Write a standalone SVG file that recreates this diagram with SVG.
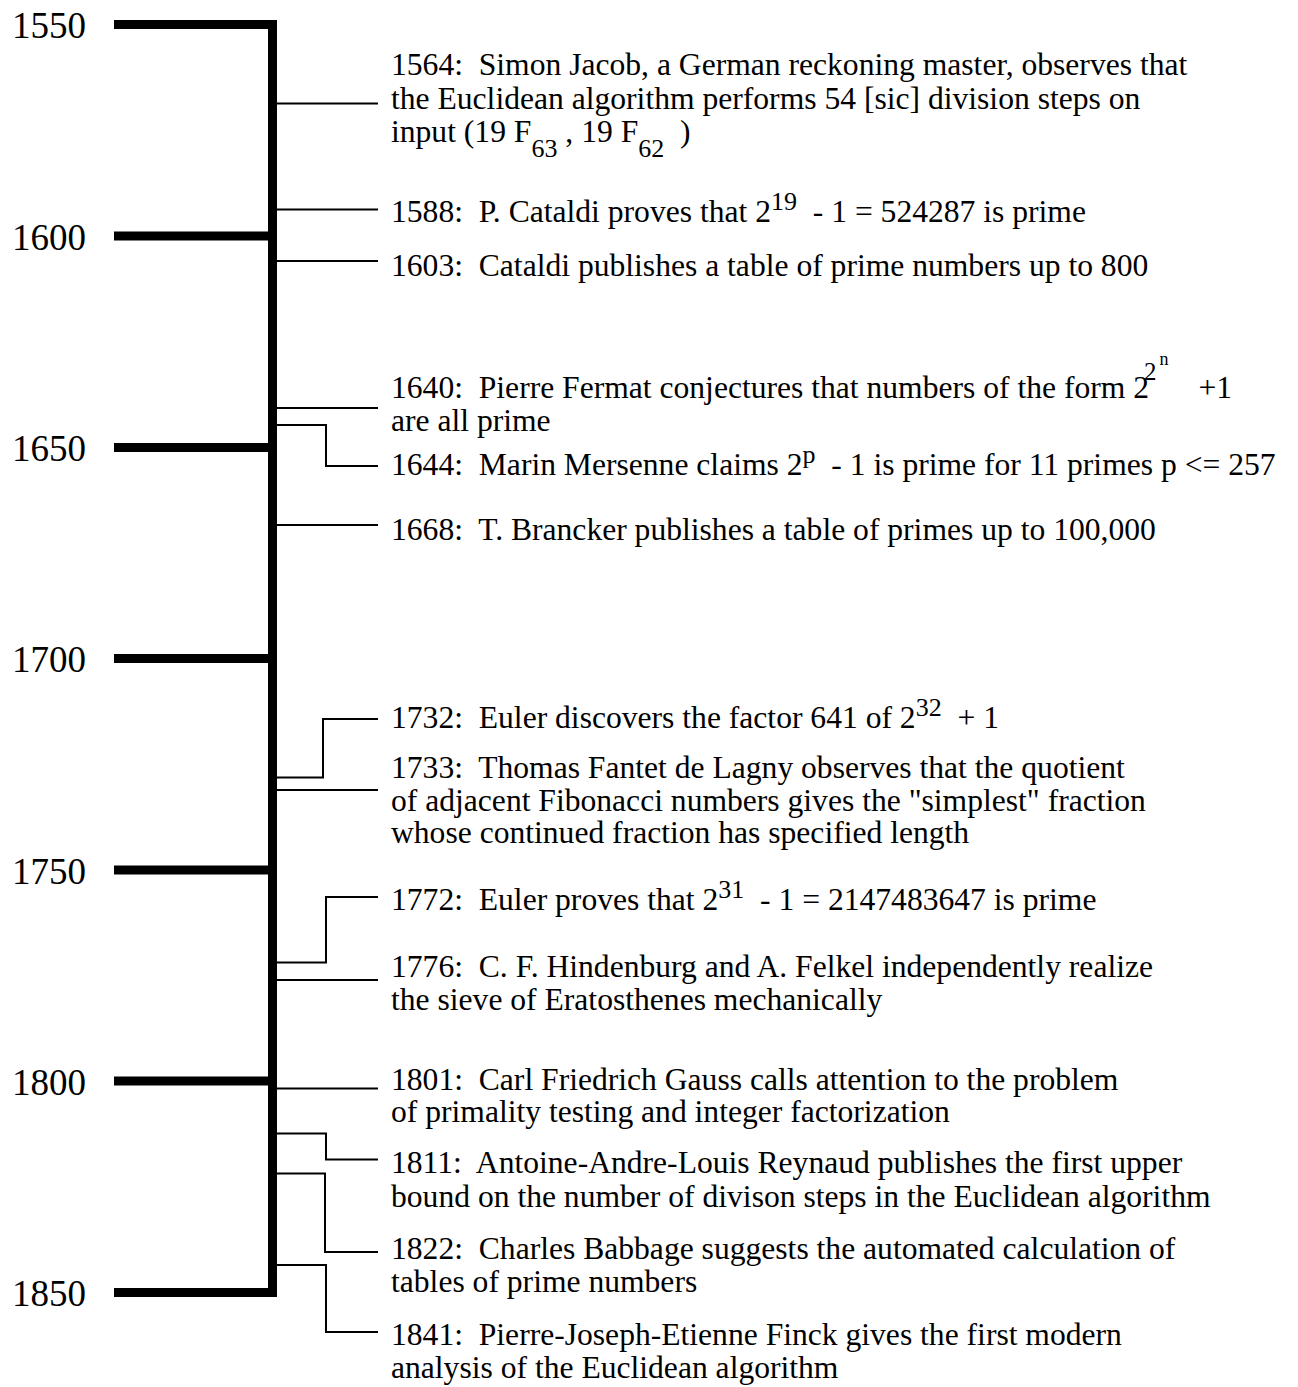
<svg xmlns="http://www.w3.org/2000/svg" width="1298" height="1387" viewBox="0 0 1298 1387">
<style>
text{font-family:"Liberation Serif","Times New Roman",serif;fill:#000;white-space:pre}
.yr{font-size:37px}
.ev{font-size:31.6px}
.sup{font-size:26px}
.conn path{fill:none;stroke:#000;stroke-width:2}
.axis rect{fill:#000}
</style>
<rect width="1298" height="1387" fill="#fff"/>
<g id="axis" class="axis">
<rect x="268" y="20" width="9" height="1277"/>
<rect x="114" y="20" width="163" height="9"/>
<rect x="114" y="231.5" width="163" height="9"/>
<rect x="114" y="443" width="163" height="9"/>
<rect x="114" y="654" width="163" height="9"/>
<rect x="114" y="865.5" width="163" height="9"/>
<rect x="114" y="1076.5" width="163" height="9"/>
<rect x="114" y="1288" width="163" height="9"/>
</g>
<g id="year-labels">
<text class="yr" x="12" y="38">1550</text>
<text class="yr" x="12" y="249.5">1600</text>
<text class="yr" x="12" y="461">1650</text>
<text class="yr" x="12" y="672">1700</text>
<text class="yr" x="12" y="883.5">1750</text>
<text class="yr" x="12" y="1094.5">1800</text>
<text class="yr" x="12" y="1306">1850</text>
</g>
<g id="connectors" class="conn">
<path d="M277 103.5H378"/>
<path d="M277 209.5H378"/>
<path d="M277 261H378"/>
<path d="M277 408H378"/>
<path d="M277 425H326V466H378"/>
<path d="M277 525H378"/>
<path d="M277 777.5H323V719H378"/>
<path d="M277 790H378"/>
<path d="M277 962.5H326V897H378"/>
<path d="M277 980H378"/>
<path d="M277 1088.5H378"/>
<path d="M277 1133.5H326V1159.5H378"/>
<path d="M277 1173.5H325V1252H378"/>
<path d="M277 1265H326V1332H378"/>
</g>
<g id="e1564">
<text class="ev" x="391" y="75">1564:  Simon Jacob, a German reckoning master, observes that</text>
<text class="ev" x="391" y="108.5">the Euclidean algorithm performs 54 [sic] division steps on</text>
<text class="ev" x="391" y="142">input (19 F<tspan class="sup" dy="15">63</tspan><tspan dy="-15"> , 19 F</tspan><tspan class="sup" dy="15">62</tspan><tspan dy="-15">  )</tspan></text>
</g>
<g id="e1588">
<text class="ev" x="391" y="222">1588:  P. Cataldi proves that 2<tspan class="sup" dy="-12">19</tspan><tspan dy="12">  - 1 = 524287 is prime</tspan></text>
</g>
<g id="e1603">
<text class="ev" x="391" y="276">1603:  Cataldi publishes a table of prime numbers up to 800</text>
</g>
<g id="e1640">
<text class="ev" x="391" y="398">1640:  Pierre Fermat conjectures that numbers of the form 2<tspan font-size="25" dx="-5" dy="-18">2</tspan><tspan font-size="18" dx="3" dy="-15">n</tspan><tspan dx="30" dy="33">+1</tspan></text>
<text class="ev" x="391" y="431">are all prime</text>
</g>
<g id="e1644">
<text class="ev" x="391" y="475">1644:  Marin Mersenne claims 2<tspan class="sup" dy="-12">p</tspan><tspan dy="12">  - 1 is prime for 11 primes p &lt;= 257</tspan></text>
</g>
<g id="e1668">
<text class="ev" x="391" y="540">1668:  T. Brancker publishes a table of primes up to 100,000</text>
</g>
<g id="e1732">
<text class="ev" x="391" y="728">1732:  Euler discovers the factor 641 of 2<tspan class="sup" dy="-12">32</tspan><tspan dy="12">  + 1</tspan></text>
</g>
<g id="e1733">
<text class="ev" x="391" y="778">1733:  Thomas Fantet de Lagny observes that the quotient</text>
<text class="ev" x="391" y="810.5">of adjacent Fibonacci numbers gives the "simplest" fraction</text>
<text class="ev" x="391" y="843">whose continued fraction has specified length</text>
</g>
<g id="e1772">
<text class="ev" x="391" y="910">1772:  Euler proves that 2<tspan class="sup" dy="-12">31</tspan><tspan dy="12">  - 1 = 2147483647 is prime</tspan></text>
</g>
<g id="e1776">
<text class="ev" x="391" y="977">1776:  C. F. Hindenburg and A. Felkel independently realize</text>
<text class="ev" x="391" y="1010">the sieve of Eratosthenes mechanically</text>
</g>
<g id="e1801">
<text class="ev" x="391" y="1090">1801:  Carl Friedrich Gauss calls attention to the problem</text>
<text class="ev" x="391" y="1122">of primality testing and integer factorization</text>
</g>
<g id="e1811">
<text class="ev" x="391" y="1173">1811:  Antoine-Andre-Louis Reynaud publishes the first upper</text>
<text class="ev" x="391" y="1207">bound on the number of divison steps in the Euclidean algorithm</text>
</g>
<g id="e1822">
<text class="ev" x="391" y="1259">1822:  Charles Babbage suggests the automated calculation of</text>
<text class="ev" x="391" y="1292">tables of prime numbers</text>
</g>
<g id="e1841">
<text class="ev" x="391" y="1345">1841:  Pierre-Joseph-Etienne Finck gives the first modern</text>
<text class="ev" x="391" y="1378">analysis of the Euclidean algorithm</text>
</g>
</svg>
